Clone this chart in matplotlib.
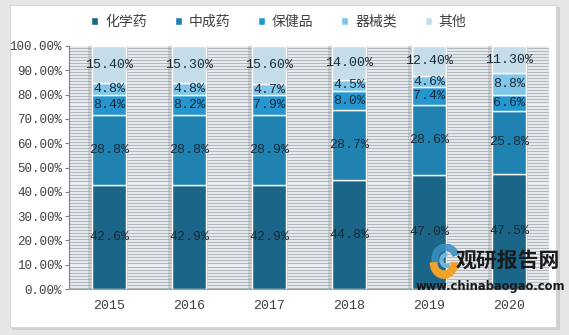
import matplotlib.pyplot as plt
import numpy as np
from matplotlib.patches import Rectangle, Wedge

# data (share of each category, %)
years = ["2015", "2016", "2017", "2018", "2019", "2020"]
series_names = ["化学药", "中成药", "保健品", "器械类", "其他"]
chem = [42.6, 42.9, 42.9, 44.8, 47.0, 47.5]
tcm = [28.8, 28.8, 28.9, 28.7, 28.6, 25.8]
health = [8.4, 8.2, 7.9, 8.0, 7.4, 6.6]
device = [4.8, 4.8, 4.7, 4.5, 4.6, 8.8]
other = [15.4, 15.3, 15.6, 14.0, 12.4, 11.3]

colors = ["#1b6688", "#1f82b0", "#2596cf", "#7fc6e8", "#c5dde8"]
label_fmt = ["{:.1f}%", "{:.1f}%", "{:.1f}%", "{:.1f}%", "{:.2f}%"]

plt.rcParams['font.family'] = ['Liberation Mono', 'Noto Sans CJK SC']

fig = plt.figure(figsize=(5.69, 3.35), dpi=100)
fig.patch.set_facecolor("#e6e6e6")
# white card with gray edge (drawn under the axes)
fig.patches.append(Rectangle((12 / 569, 5 / 335), 548 / 569, 323 / 335, transform=fig.transFigure,
                             facecolor="#cfcfcf", edgecolor="none", zorder=-10))
fig.patches.append(Rectangle((10 / 569, 8 / 335), 546 / 569, 322 / 335, transform=fig.transFigure,
                             facecolor="white", edgecolor="#d8d8d8", linewidth=0.8, zorder=-9))

ax = fig.add_axes([69 / 569, 46 / 335, 480 / 569, 243 / 335])
ax.set_facecolor("#edf2f7")

# striped plot background
for yy in np.arange(0.5, 100, 1.25):
    ax.axhline(yy, color="#b4b8bd", linewidth=0.9, zorder=0)

x = np.arange(len(years))
width = 0.43
data = [chem, tcm, health, device, other]
bottom = np.zeros(len(years))

# soft shadow behind bars
ax.bar(x - 0.01, [100] * len(years), width=width + 0.07, color="#9a9a9a", alpha=0.35, zorder=1, linewidth=0)

for name, vals, c, fmt in zip(series_names, data, colors, label_fmt):
    vals = np.array(vals)
    ax.bar(x, vals, width=width, bottom=bottom, color=c, edgecolor="white", linewidth=1.0,
           label=name, zorder=2)
    for xi, b, v in zip(x, bottom, vals):
        ax.text(xi, b + v / 2, fmt.format(v), ha="center", va="center", fontsize=9.5,
                color="#1a2a3a", zorder=3)
    bottom += vals

ax.set_xlim(-0.5, len(years) - 0.5)
ax.set_ylim(0, 100)
ax.set_yticks(np.arange(0, 101, 10))
ax.set_yticklabels(["{:.2f}%".format(v) for v in np.arange(0, 101, 10)], fontsize=9, color="#404040")
ax.set_xticks(x)
ax.set_xticklabels(years, fontsize=9.5, color="#404040")
ax.tick_params(axis="x", length=0, pad=8)
ax.tick_params(axis="y", length=3, color="#808080", pad=2)
for s in ["top", "right"]:
    ax.spines[s].set_visible(False)
ax.spines["left"].set_color("#808080")
ax.spines["bottom"].set_color("#a0a0a0")

leg = fig.legend(loc="center", bbox_to_anchor=(0.49, 0.935), ncol=5, frameon=False,
                 handlelength=0.5, handleheight=0.5, handletextpad=0.5, columnspacing=2.0,
                 prop={'family': ['Noto Sans CJK SC'], 'size': 10})
for t in leg.get_texts():
    t.set_color("#404040")

# watermark with simple logo
lax = fig.add_axes([428 / 569, 55 / 335, 32 / 569, 36 / 335])
lax.set_xlim(-1, 1)
lax.set_ylim(-1, 1)
lax.axis("off")
lax.add_patch(Wedge((0.1, 0.15), 0.85, 20, 200, width=0.35, color="#3a8fbf", alpha=0.85))
lax.add_patch(Wedge((0.0, -0.05), 0.85, 180, 360, width=0.4, color="#f2a12a"))
lax.add_patch(Wedge((0.15, 0.1), 0.4, 90, 300, width=0.18, color="#6fb6d8"))
fig.text(0.893, 0.224, "观研报告网", fontsize=15, fontweight="bold", family=['Noto Sans CJK SC'],
         color="#1a1a1a", ha="center", va="center", zorder=5)
fig.text(0.862, 0.146, "www.chinabaogao.com", fontsize=8.3, fontweight="bold", family=['DejaVu Sans'],
         color="#1a1a1a", ha="center", va="center", zorder=5)

fig.savefig("out.png", dpi=100, facecolor=fig.get_facecolor())
